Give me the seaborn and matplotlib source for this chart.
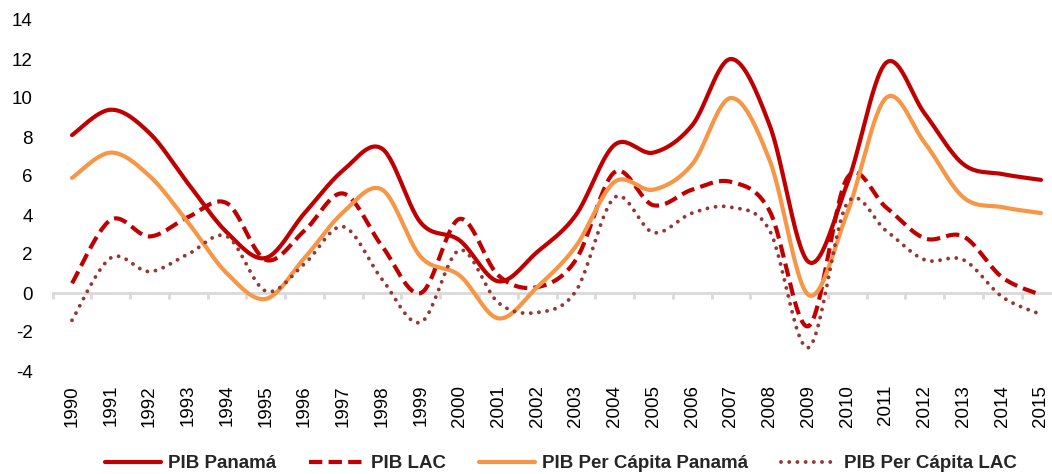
import numpy as np
import pandas as pd
import matplotlib
matplotlib.use('Agg')
import matplotlib.pyplot as plt
import seaborn as sns

# Data (annual growth, %)
years = list(range(1990, 2016))
pib_panama = [8.1, 9.4, 8.2, 5.6, 3.1, 1.8, 4.1, 6.3, 7.4, 3.6, 2.7, 0.6, 2.1, 4.0,
              7.6, 7.2, 8.6, 12.0, 8.6, 1.6, 5.6, 11.8, 9.2, 6.6, 6.1, 5.8]
pib_lac = [0.5, 3.75, 2.9, 3.9, 4.6, 1.7, 3.2, 5.1, 2.4, 0.0, 3.8, 0.9, 0.3, 1.7,
           6.2, 4.5, 5.3, 5.7, 4.2, -1.7, 5.9, 4.4, 2.8, 2.9, 0.8, -0.1]
pib_pc_panama = [5.9, 7.2, 6.0, 3.6, 1.0, -0.3, 1.8, 4.15, 5.3, 1.85, 0.9, -1.3, 0.3, 2.4,
                 5.7, 5.3, 6.6, 10.0, 6.8, -0.1, 4.1, 10.0, 7.7, 4.9, 4.4, 4.1]
pib_pc_lac = [-1.4, 1.8, 1.1, 2.0, 2.9, 0.1, 1.5, 3.4, 0.7, -1.5, 2.2, -0.5, -1.0, 0.1,
              4.9, 3.1, 4.1, 4.4, 3.2, -2.8, 4.6, 3.2, 1.7, 1.7, -0.2, -1.1]

labels = ['PIB Panamá', 'PIB LAC', 'PIB Per Cápita Panamá', 'PIB Per Cápita LAC']
colors = ['#C00000', '#C00000', '#F79646', '#953735']


def smooth(xs, ys, n=30):
    # Excel-style smoothed line: cubic Bezier segments through the points
    p = np.column_stack([xs, ys]).astype(float)
    p = np.vstack([p[0], p, p[-1]])
    t = np.linspace(0, 1, n)[:, None]
    out = []
    for i in range(1, len(p) - 2):
        b0, b3 = p[i], p[i + 1]
        b1 = p[i] + (p[i + 1] - p[i - 1]) / 6
        b2 = p[i + 1] - (p[i + 2] - p[i]) / 6
        seg = (1 - t) ** 3 * b0 + 3 * (1 - t) ** 2 * t * b1 + 3 * (1 - t) * t ** 2 * b2 + t ** 3 * b3
        out.append(seg if i == 1 else seg[1:])
    out = np.vstack(out)
    return pd.DataFrame({'year': out[:, 0], 'value': out[:, 1]})


sns.set_style('white')
plt.rcParams['font.family'] = ['Liberation Sans', 'DejaVu Sans']
plt.rcParams['axes.unicode_minus'] = False

fig = plt.figure(figsize=(10.52, 4.74), dpi=100)
ax = fig.add_axes([52 / 1052, 103 / 474, 1 - 52 / 1052, 351 / 474])

# zero line with category boundary ticks
ax.axhline(0, color='#D9D9D9', lw=2, zorder=1)
bounds = np.array(years + [years[-1] + 1]) - 0.5
ax.vlines(bounds, -0.32, 0, color='#D9D9D9', lw=2, zorder=1)

series = [pib_panama, pib_lac, pib_pc_panama, pib_pc_lac]
styles = ['-', (0, (3.2, 1.5)), '-', (0, (0.01, 2.1))]
widths = [3, 3, 3, 2.8]
lines = []
for vals, lab, col, ls, lw in zip(series, labels, colors, styles, widths):
    df = smooth(years, vals)
    sns.lineplot(data=df, x='year', y='value', sort=False, color=col, lw=lw,
                 linestyle=ls, label=lab, ax=ax, zorder=3)
    ln = ax.lines[-1]
    if lab == 'PIB Per Cápita LAC':
        ln.set_dash_capstyle('round')
    lines.append(ln)

ax.set_xlim(1990 - 20 / 38.76, 2015 + 11 / 38.76)
ax.set_ylim(-4, 14)
ax.set_yticks(range(-4, 15, 2))
ax.set_xticks(years)
ax.set_xticklabels([str(y) for y in years], rotation=90)
ax.tick_params(axis='y', length=0, pad=14, labelsize=13.5, colors='black')
ax.tick_params(axis='x', length=0, pad=10, labelsize=13.5, colors='black')
ax.set_xlabel('')
ax.set_ylabel('')
for s in ax.spines.values():
    s.set_visible(False)

ax.get_legend().remove()
fig.legend(lines, labels, loc='center', bbox_to_anchor=(0.533, 0.022), ncol=4,
           frameon=False, handlelength=3.0, handletextpad=0.35, columnspacing=1.75,
           prop={'weight': 'bold', 'size': 13.5})

fig.savefig('out.png', dpi=100)
